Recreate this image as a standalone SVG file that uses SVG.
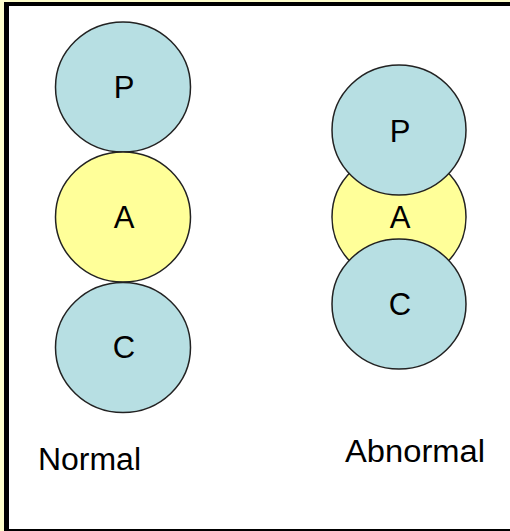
<svg xmlns="http://www.w3.org/2000/svg" width="510" height="531" viewBox="0 0 510 531">
<style>
.p{fill:#b7dfe3;stroke:#222;stroke-width:1.5}
.a{fill:#ffff99;stroke:#222;stroke-width:1.5}
.t{font-family:"Liberation Sans",Arial,sans-serif;font-size:31px;fill:#000;text-anchor:middle}
.l{font-family:"Liberation Sans",Arial,sans-serif;font-size:31px;fill:#000}
</style>
<rect x="0" y="0" width="510" height="531" fill="#ffffcc"/>
<rect x="4" y="2" width="520" height="535" fill="#000"/>
<rect x="9" y="6" width="510" height="523" fill="#fff"/>
<g id="normal-P"><ellipse class="p" cx="123" cy="87" rx="67.5" ry="65"/><text class="t" x="124" y="98">P</text></g>
<g id="normal-A"><ellipse class="a" cx="123" cy="217" rx="67.5" ry="65"/><text class="t" x="124" y="228">A</text></g>
<g id="normal-C"><ellipse class="p" cx="123" cy="347.5" rx="67.5" ry="65"/><text class="t" x="124" y="358">C</text></g>
<g id="abnormal-A"><ellipse class="a" cx="399" cy="217" rx="67" ry="65"/><text class="t" x="400" y="228">A</text></g>
<g id="abnormal-P"><ellipse class="p" cx="399" cy="130" rx="67" ry="65"/><text class="t" x="400" y="141.5">P</text></g>
<g id="abnormal-C"><ellipse class="p" cx="399" cy="304" rx="67" ry="65"/><text class="t" x="400" y="315">C</text></g>
<g id="connectors"/>
<text class="l" x="38" y="470" textLength="103" lengthAdjust="spacingAndGlyphs">Normal</text>
<text class="l" x="345" y="461.5" textLength="140" lengthAdjust="spacingAndGlyphs">Abnormal</text>
</svg>
